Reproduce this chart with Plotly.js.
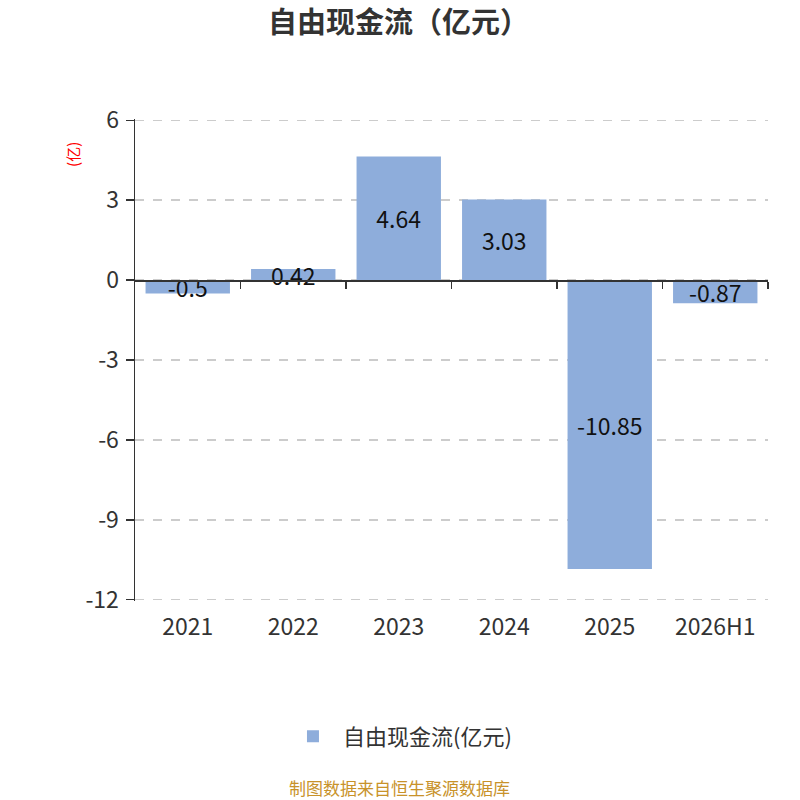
<!DOCTYPE html>
<html>
<head>
<meta charset="utf-8">
<script src="https://cdn.plot.ly/plotly-3.0.1.min.js"></script>
<style>
  body { margin: 0; background: #fff; }
  #chart { width: 800px; height: 800px; }
</style>
</head>
<body>
<div id="chart"></div>
<script>
// values
const years = ['2021', '2022', '2023', '2024', '2025', '2026H1'];
const freeCashFlow = [-0.5, 0.42, 4.64, 3.03, -10.85, -0.87];
const yTicks = [-12, -9, -6, -3, 0, 3, 6];
const yTickText = ['-12', '-9', '-6', '-3', '0', '3', '6'];
const boundaryTicks = [0.5, 1.5, 2.5, 3.5, 4.5, 5.5];

const font = '"Noto Sans CJK SC", "Noto Sans", sans-serif';
const barColor = '#8eaddb';

let bars = {
    x: years,
    y: freeCashFlow,
    type: 'bar',
    name: '自由现金流(亿元)',
    width: 0.8,
    marker: { color: barColor },
    text: freeCashFlow.map(v => String(v)),
    textposition: 'inside',
    insidetextanchor: 'middle',
    constraintext: 'none',
    textfont: { family: font, size: 23, color: '#111' },
    hoverinfo: 'x+y'
};

// invisible helper trace so the zero axis line gets its own ticks
let zeroAxis = {
    x: [0], y: [0],
    xaxis: 'x2',
    type: 'scatter',
    mode: 'markers',
    marker: { opacity: 0 },
    showlegend: false,
    hoverinfo: 'skip'
};

let layout = {
    width: 800,
    height: 800,
    margin: { l: 135, r: 32, t: 119, b: 199 },
    paper_bgcolor: '#fff',
    plot_bgcolor: '#fff',
    font: { family: font, color: '#333' },
    title: {
        text: '<b>自由现金流（亿元）</b>',
        x: 0.498, xanchor: 'center',
        y: 0.971, yanchor: 'middle',
        font: { family: font, size: 29, color: '#333' }
    },
    xaxis: {
        type: 'category',
        range: [-0.5, 5.5],
        showline: false,
        showgrid: false,
        zeroline: false,
        ticks: '',
        ticklabelstandoff: 10,
        tickfont: { family: font, size: 23, color: '#333' },
        fixedrange: true
    },
    xaxis2: {
        overlaying: 'x',
        anchor: 'free',
        position: 12.05 / 18.1,
        range: [-0.5, 5.5],
        showline: true,
        linecolor: '#333',
        linewidth: 1.5,
        showgrid: false,
        zeroline: false,
        tickmode: 'array',
        tickvals: boundaryTicks,
        ticks: 'outside',
        ticklen: 7,
        tickwidth: 1.5,
        tickcolor: '#333',
        showticklabels: false
    },
    yaxis: {
        range: [-12.05, 6.05],
        tickmode: 'array',
        tickvals: yTicks,
        ticktext: yTickText,
        showline: true,
        linecolor: '#333',
        linewidth: 1.5,
        ticks: 'outside',
        ticklen: 8,
        tickwidth: 1.5,
        tickcolor: '#333',
        showgrid: true,
        gridcolor: '#cccccc',
        griddash: 'dash',
        gridwidth: 1.5,
        zeroline: false,
        ticklabelstandoff: 2,
        tickfont: { family: font, size: 23, color: '#333' },
        fixedrange: true
    },
    showlegend: true,
    legend: {
        orientation: 'h',
        x: 0.4186, xanchor: 'center',
        y: -0.281, yanchor: 'middle',
        font: { family: font, size: 22, color: '#333' },
        itemwidth: 50
    },
    annotations: [
        {
            text: '(亿)',
            xref: 'paper', yref: 'paper',
            x: -0.1, y: 0.927,
            xanchor: 'center', yanchor: 'middle',
            textangle: -90,
            showarrow: false,
            font: { family: font, size: 15, color: '#ff0000' }
        },
        {
            text: '制图数据来自恒生聚源数据库',
            xref: 'paper', yref: 'paper',
            x: 0.4186, y: -0.386,
            xanchor: 'center', yanchor: 'middle',
            showarrow: false,
            font: { family: font, size: 17, color: '#c8922a' }
        }
    ]
};

Plotly.newPlot('chart', [bars, zeroAxis], layout, { displayModeBar: false, staticPlot: true });
</script>
</body>
</html>
